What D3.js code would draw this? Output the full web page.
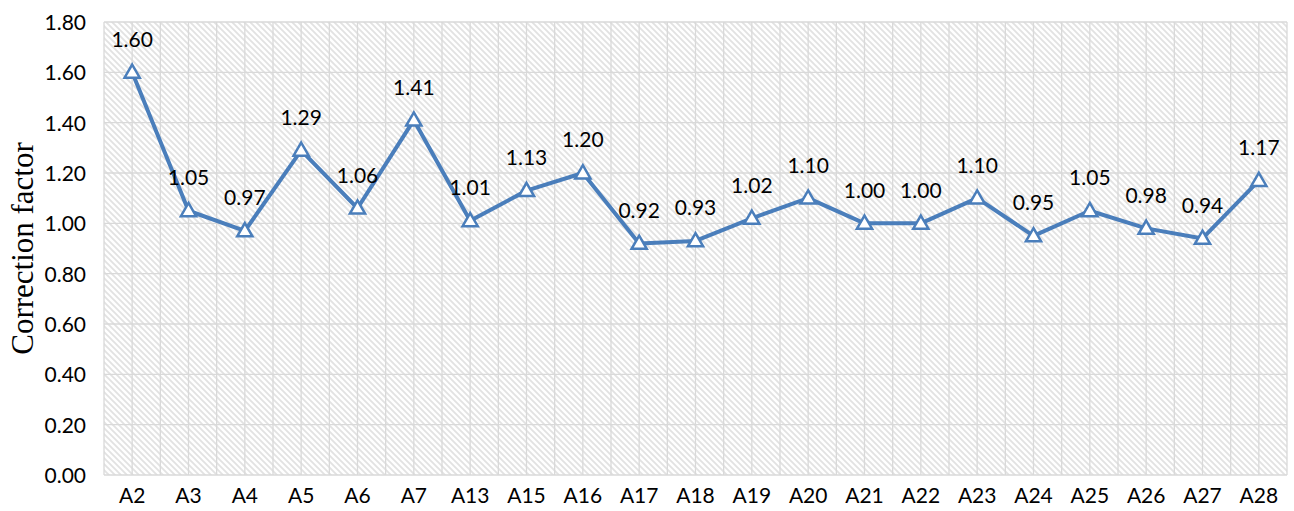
<!DOCTYPE html>
<html>
<head>
<meta charset="utf-8">
<script src="https://cdn.jsdelivr.net/npm/d3@7"></script>
<style>
	body { margin: 0; background: #fff; }
	text { font-family: Lato, "Open Sans", sans-serif; fill: #000; }
	.grid line { stroke: #d9d9d9; stroke-width: 1.3px; }
</style>
</head>
<body>
<div id="content"></div>
<script>

	// data
	var categories = ["A2", "A3", "A4", "A5", "A6", "A7", "A13", "A15", "A16", "A17", "A18",
	                  "A19", "A20", "A21", "A22", "A23", "A24", "A25", "A26", "A27", "A28"];
	var values = [1.60, 1.05, 0.97, 1.29, 1.06, 1.41, 1.01, 1.13, 1.20, 0.92, 0.93,
	              1.02, 1.10, 1.00, 1.00, 1.10, 0.95, 1.05, 0.98, 0.94, 1.17];
	var yTicks = [0, 0.2, 0.4, 0.6, 0.8, 1.0, 1.2, 1.4, 1.6, 1.8];

	var width = 1294,
	    height = 511,
	    margin = {top: 22, right: 7, bottom: 36, left: 104};

	var svg = d3.select("#content").append("svg")
	    .attr("width", width)
	    .attr("height", height);

	// diagonal hatch for the plot area
	var pat = svg.append("defs").append("pattern")
	    .attr("id", "hatch")
	    .attr("patternUnits", "userSpaceOnUse")
	    .attr("width", 6)
	    .attr("height", 6);
	pat.append("rect").attr("width", 6).attr("height", 6).attr("fill", "#fff");
	pat.append("path")
	    .attr("d", "M-1,-1 L7,7 M-1,5 L1,7 M5,-1 L7,1")
	    .attr("stroke", "#e2e2e2")
	    .attr("stroke-width", 1.8);

	var x = d3.scaleBand()
	    .domain(categories)
	    .range([margin.left, width - margin.right]);

	var y = d3.scaleLinear()
	    .domain([0, 1.8])
	    .range([height - margin.bottom, margin.top]);

	var cx = function(d) { return x(d) + x.bandwidth() / 2; };

	svg.append("rect")
	    .attr("x", margin.left)
	    .attr("y", y(1.8))
	    .attr("width", width - margin.right - margin.left)
	    .attr("height", y(0) - y(1.8))
	    .attr("fill", "url(#hatch)");

	var grid = svg.append("g").attr("class", "grid");

	// vertical lines at each category edge and centre
	var vpos = [];
	categories.forEach(function(c) { vpos.push(x(c)); vpos.push(cx(c)); });
	vpos.push(width - margin.right);

	grid.selectAll("line.v")
	    .data(vpos)
	    .enter().append("line")
	      .attr("class", "v")
	      .attr("x1", function(d) { return d; })
	      .attr("x2", function(d) { return d; })
	      .attr("y1", y(1.8))
	      .attr("y2", y(0));

	grid.selectAll("line.h")
	    .data(yTicks)
	    .enter().append("line")
	      .attr("class", "h")
	      .attr("x1", margin.left)
	      .attr("x2", width - margin.right)
	      .attr("y1", function(d) { return y(d); })
	      .attr("y2", function(d) { return y(d); });

	// axes
	var yAxis = svg.append("g")
	    .attr("transform", "translate(" + (margin.left - 15) + ",0)")
	    .call(d3.axisLeft(y).tickValues(yTicks).tickFormat(d3.format(".2f")).tickSize(0));
	yAxis.select(".domain").remove();
	yAxis.selectAll("text").attr("font-size", 21).attr("dy", "0.35em").style("font-family", "Lato");

	var xAxis = svg.append("g")
	    .attr("transform", "translate(0," + (height - margin.bottom) + ")")
	    .call(d3.axisBottom(x).tickSize(0));
	xAxis.select(".domain").remove();
	xAxis.selectAll("text").attr("font-size", 21).attr("y", 13).style("font-family", "Lato");

	svg.append("text")
	    .attr("transform", "translate(33," + ((y(0) + y(1.8)) / 2) + ") rotate(-90)")
	    .attr("text-anchor", "middle")
	    .style("font-family", "'Liberation Serif', serif")
	    .attr("font-size", 31)
	    .text("Correction factor");

	// series line
	var line = d3.line()
	    .x(function(d, i) { return cx(categories[i]); })
	    .y(function(d) { return y(d); });

	svg.append("path")
	    .datum(values)
	    .attr("d", line)
	    .attr("fill", "none")
	    .attr("stroke", "#4a7ebb")
	    .attr("stroke-width", 4)
	    .attr("stroke-linejoin", "round");

	var tri = d3.symbol().type(d3.symbolTriangle).size(100);

	svg.append("g").selectAll("path")
	    .data(values)
	    .enter().append("path")
	      .attr("d", tri)
	      .attr("transform", function(d, i) {
	      	return "translate(" + cx(categories[i]) + "," + (y(d) + 1) + ")";
	      })
	      .attr("fill", "#fff")
	      .attr("stroke", "#4a7ebb")
	      .attr("stroke-width", 2.5);

	// data labels
	svg.append("g").selectAll("text")
	    .data(values)
	    .enter().append("text")
	      .attr("x", function(d, i) { return cx(categories[i]); })
	      .attr("y", function(d) { return y(d) - 33; })
	      .attr("dy", "0.35em")
	      .attr("text-anchor", "middle")
	      .attr("font-size", 21)
	      .text(function(d) { return d.toFixed(2); });

</script>
</body>
</html>
